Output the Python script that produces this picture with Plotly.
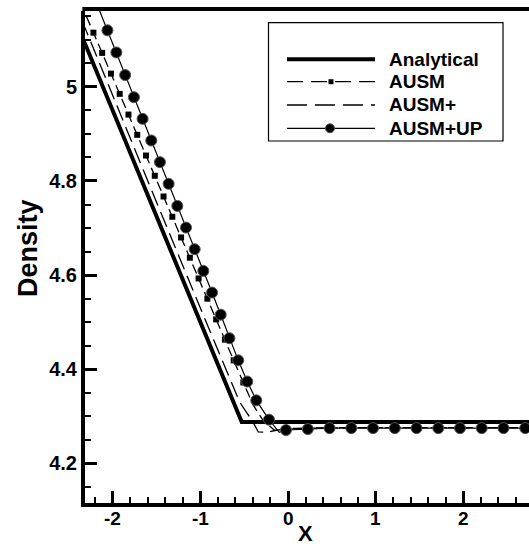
import plotly.graph_objects as go

# ---------------- data ----------------
analytical_x = [-2.45, -0.528, 2.8]
analytical_y = [5.152, 4.288, 4.288]

ausm_x = [-2.30, -2.22, -2.12, -2.02, -1.92, -1.82, -1.72, -1.62, -1.52, -1.42, -1.32, -1.22,
          -1.12, -1.02, -0.92, -0.82, -0.72, -0.62, -0.51, -0.40, -0.28, -0.15, 0.0, 0.3, 0.8, 1.5, 2.8]
ausm_y = [5.150, 5.115, 5.072, 5.028, 4.985, 4.941, 4.898, 4.854, 4.811, 4.767, 4.724, 4.680,
          4.637, 4.593, 4.550, 4.506, 4.463, 4.419, 4.372, 4.325, 4.290, 4.270, 4.273, 4.275, 4.276, 4.276, 4.276]
ausm_mx = [-2.22, -2.12, -2.02, -1.92, -1.82, -1.72, -1.62, -1.52, -1.42, -1.32, -1.22,
           -1.12, -1.02, -0.92, -0.82, -0.72, -0.62, -0.51]
ausm_my = [5.115, 5.072, 5.028, 4.985, 4.941, 4.898, 4.854, 4.811, 4.767, 4.724, 4.680,
           4.637, 4.593, 4.550, 4.506, 4.463, 4.419, 4.372]

ausmp_x = [-2.45, -2.0, -1.5, -1.0, -0.718, -0.55, -0.40, -0.34, -0.25, -0.15, 0.0, 0.5, 1.5, 2.8]
ausmp_y = [5.186, 4.980, 4.755, 4.530, 4.404, 4.330, 4.288, 4.267, 4.266, 4.270, 4.274, 4.276, 4.276, 4.276]

ausmup_x = [-2.20, -2.06, -1.958, -1.858, -1.758, -1.659, -1.56, -1.461, -1.362, -1.263, -1.164,
            -1.065, -0.966, -0.867, -0.768, -0.669, -0.568, -0.465, -0.362, -0.217, -0.10,
            -0.023, 0.226, 0.474, 0.722, 0.97, 1.218, 1.466, 1.714, 1.962, 2.21, 2.458, 2.706, 2.8]
ausmup_y = [5.185, 5.120, 5.073, 5.025, 4.978, 4.932, 4.886, 4.840, 4.794, 4.747, 4.701,
            4.655, 4.609, 4.563, 4.516, 4.466, 4.419, 4.374, 4.334, 4.293, 4.266,
            4.271, 4.273, 4.275, 4.275, 4.275, 4.275, 4.275, 4.275, 4.275, 4.275, 4.275, 4.275, 4.275]
ausmup_mx = [-2.06, -1.958, -1.858, -1.758, -1.659, -1.56, -1.461, -1.362, -1.263, -1.164,
             -1.065, -0.966, -0.867, -0.768, -0.669, -0.568, -0.465, -0.362, -0.217,
             -0.023, 0.226, 0.474, 0.722, 0.97, 1.218, 1.466, 1.714, 1.962, 2.21, 2.458, 2.706]
ausmup_my = [5.120, 5.073, 5.025, 4.978, 4.932, 4.886, 4.840, 4.794, 4.747, 4.701,
             4.655, 4.609, 4.563, 4.516, 4.466, 4.419, 4.374, 4.334, 4.293,
             4.271, 4.273, 4.275, 4.275, 4.275, 4.275, 4.275, 4.275, 4.275, 4.275, 4.275, 4.275]

legend_names = ["Analytical", "AUSM", "AUSM+", "AUSM+UP"]

x_ticks = [-2, -1, 0, 1, 2]
x_tick_text = ["-2", "-1", "0", "1", "2"]
y_ticks = [4.2, 4.4, 4.6, 4.8, 5.0]
y_tick_text = ["4.2", "4.4", "4.6", "4.8", "5"]

# ---------------- layout geometry ----------------
W, H = 529, 548
L, R, T, B = 85, 0, 11, 45
PW, PH = W - L - R, H - T - B
XR = [-2.316, 2.749]
YR = [4.116, 5.161]

FONT = "Arial, Liberation Sans, Helvetica, sans-serif"

def px(xp):
    return (xp - L) / PW

def py(yp):
    return (H - B - yp) / PH

fig = go.Figure()

fig.add_trace(go.Scatter(x=analytical_x, y=analytical_y, mode="lines",
                         line=dict(color="black", width=4), name=legend_names[0],
                         showlegend=False))
fig.add_trace(go.Scatter(x=ausmp_x, y=ausmp_y, mode="lines",
                         line=dict(color="black", width=1.3, dash="16px,7px"),
                         name=legend_names[2], showlegend=False))
fig.add_trace(go.Scatter(x=ausm_x, y=ausm_y, mode="lines",
                         line=dict(color="black", width=1.3, dash="10px,5px"),
                         name=legend_names[1], showlegend=False))
fig.add_trace(go.Scatter(x=ausm_mx, y=ausm_my, mode="markers",
                         marker=dict(symbol="square", size=6, color="black"),
                         showlegend=False, hoverinfo="skip"))
fig.add_trace(go.Scatter(x=ausmup_x, y=ausmup_y, mode="lines",
                         line=dict(color="black", width=1.2),
                         name=legend_names[3], showlegend=False))
fig.add_trace(go.Scatter(x=ausmup_mx, y=ausmup_my, mode="markers",
                         marker=dict(symbol="circle", size=11, color="black",
                                     line=dict(color="#555", width=1)),
                         showlegend=False, hoverinfo="skip"))

shapes = []
annotations = []

# top frame line (right side is cut off in the reference)
shapes.append(dict(type="line", xref="paper", yref="paper", x0=-0.006, x1=1.01,
                   y0=1 + 2 / PH, y1=1 + 2 / PH, line=dict(color="black", width=4)))

# legend box
lx0, lx1, ly0, ly1 = 268.5, 503, 22.7, 141
shapes.append(dict(type="rect", xref="paper", yref="paper", x0=px(lx0), x1=px(lx1),
                   y0=py(ly1), y1=py(ly0), line=dict(color="black", width=1.2),
                   fillcolor="white", layer="above"))
rows = [59.3, 81.7, 105, 128.3]
sx0, sx1 = 287, 375
styles = [dict(color="black", width=4),
          dict(color="black", width=1.3, dash="16px,8px"),
          dict(color="black", width=1.3, dash="20px,8px"),
          dict(color="black", width=1.2)]
for i, (name, yy) in enumerate(zip(legend_names, rows)):
    shapes.append(dict(type="line", xref="paper", yref="paper", x0=px(sx0), x1=px(sx1),
                       y0=py(yy), y1=py(yy), line=styles[i], layer="above"))
    annotations.append(dict(text="<b>%s</b>" % name, xref="paper", yref="paper",
                            x=px(387), y=py(yy), xanchor="left", yanchor="middle",
                            showarrow=False, font=dict(family=FONT, size=19, color="black")))
# legend sample symbols
shapes.append(dict(type="rect", xref="paper", yref="paper", xsizemode="pixel", ysizemode="pixel",
                   xanchor=px(331), yanchor=py(rows[1]), x0=-2.5, x1=2.5, y0=-2.5, y1=2.5,
                   fillcolor="black", line=dict(width=0), layer="above"))
shapes.append(dict(type="circle", xref="paper", yref="paper", xsizemode="pixel", ysizemode="pixel",
                   xanchor=px(330), yanchor=py(rows[3]), x0=-4.5, x1=4.5, y0=-4.5, y1=4.5,
                   fillcolor="black", line=dict(width=1, color="#555"), layer="above"))

# x tick labels (placed close to the axis as in the reference)
for v, t in zip(x_ticks, x_tick_text):
    annotations.append(dict(text="<b>%s</b>" % t, xref="x", yref="paper", x=v, y=py(518),
                            xanchor="center", yanchor="middle", showarrow=False,
                            font=dict(family=FONT, size=19, color="black")))

# axis titles
annotations.append(dict(text="<b>X</b>", xref="paper", yref="paper", x=px(305), y=py(533),
                        xanchor="center", yanchor="middle", showarrow=False,
                        font=dict(family=FONT, size=22, color="black")))
annotations.append(dict(text="<b>Density</b>", xref="paper", yref="paper", x=px(28), y=py(248),
                        xanchor="center", yanchor="middle", showarrow=False, textangle=-90,
                        font=dict(family=FONT, size=27, color="black")))

fig.update_layout(
    width=W, height=H,
    margin=dict(l=L, r=R, t=T, b=B),
    paper_bgcolor="white", plot_bgcolor="white",
    showlegend=False,
    shapes=shapes, annotations=annotations,
    font=dict(family=FONT, size=16, color="black"),
)
fig.update_xaxes(range=XR, showgrid=False, zeroline=False, showline=True, linecolor="black",
                 linewidth=4, mirror=False, ticks="inside", ticklen=12, tickwidth=3,
                 tickcolor="black", tickvals=x_ticks, showticklabels=False,
                 minor=dict(dtick=0.2, tick0=0, ticks="inside", ticklen=6, tickwidth=1.5,
                            tickcolor="black", showgrid=False))
fig.update_yaxes(range=YR, showgrid=False, zeroline=False, showline=True, linecolor="black",
                 linewidth=4, mirror=False, ticks="inside", ticklen=12, tickwidth=3,
                 tickcolor="black", tickvals=y_ticks, ticktext=["<b>%s</b>" % t for t in y_tick_text],
                 tickfont=dict(family=FONT, size=20, color="black"),
                 minor=dict(dtick=0.05, tick0=0, ticks="inside", ticklen=6, tickwidth=1.5,
                            tickcolor="black", showgrid=False))

fig.write_html("out.html")
